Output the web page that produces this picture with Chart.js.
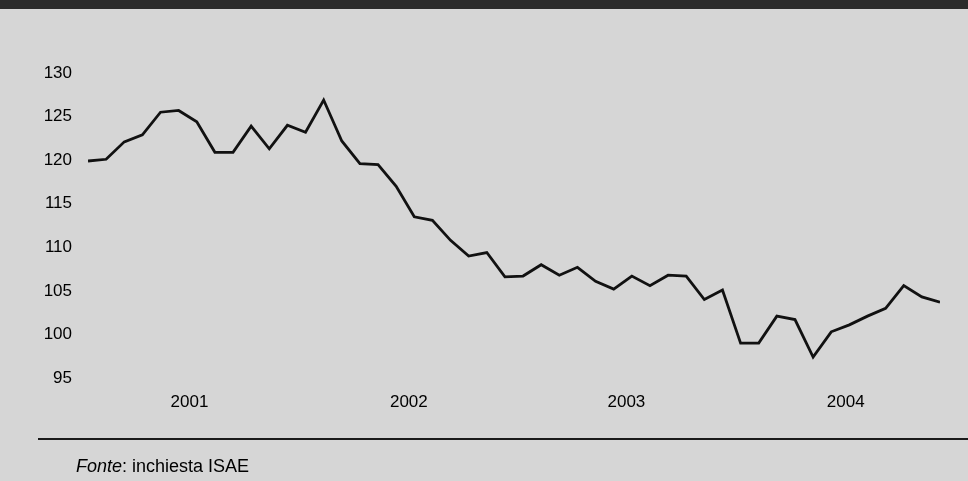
<!DOCTYPE html>
<html>
<head>
<meta charset="utf-8">
<script src="https://cdn.jsdelivr.net/npm/chart.js@4.4.1/dist/chart.umd.min.js"></script>
<style>
  html, body { margin: 0; padding: 0; }
  body {
    width: 968px; height: 481px; position: relative; overflow: hidden;
    background: #d6d6d6;
    font-family: "Liberation Sans", Arial, Helvetica, sans-serif;
  }
  #band { position: absolute; left: 0; top: 0; width: 968px; height: 9px; background: #2b2b2b; }
  #rule { position: absolute; left: 38px; top: 438px; width: 930px; height: 2px; background: #1a1a1a; }
  #source { position: absolute; left: 76px; top: 456px; font-size: 18px; color: #000; }
  #wrap { position: absolute; left: 0; top: 0; width: 968px; height: 481px; }
</style>
</head>
<body>
<div id="band"></div>
<div id="wrap"><canvas id="chart"></canvas></div>
<div id="rule"></div>
<div id="source"><i>Fonte</i>: inchiesta ISAE</div>
<script>
// monthly index, Jan 2001 - Dec 2004
const years = ['2001', '2002', '2003', '2004'];
const months = ['gen', 'feb', 'mar', 'apr', 'mag', 'giu', 'lug', 'ago', 'set', 'ott', 'nov', 'dic'];
const categories = years.flatMap(y => months.map(m => m + ' ' + y));

const values = [
  119.9, 120.1, 122.1, 122.9, 125.5, 125.7, 124.4, 120.9, 120.9, 123.9, 121.3, 124.0,
  123.2, 126.9, 122.2, 119.6, 119.5, 117.0, 113.5, 113.1, 110.8, 109.0, 109.4, 106.6,
  106.7, 108.0, 106.8, 107.7, 106.1, 105.2, 106.7, 105.6, 106.8, 106.7, 104.0, 105.1,
  99.0, 99.0, 102.1, 101.7, 97.4, 100.3, 101.1, 102.1, 103.0, 105.6, 104.3, 103.7
];

const yTicks = [95, 100, 105, 110, 115, 120, 125, 130];
// year labels sit in the middle of each year
const yearTicks = [5.6, 17.7, 29.7, 41.8];

const points = values.map((v, i) => ({ x: i, y: v, label: categories[i] }));

new Chart(document.getElementById('chart').getContext('2d'), {
  type: 'line',
  data: {
    datasets: [{
      label: 'Indice',
      data: points,
      borderColor: '#111',
      borderWidth: 2.8,
      pointRadius: 0,
      tension: 0,
      fill: false
    }]
  },
  options: {
    responsive: true,
    maintainAspectRatio: false,
    animation: false,
    layout: { padding: { top: 73, right: 28, bottom: 0, left: 0 } },
    plugins: { legend: { display: false }, tooltip: { enabled: false } },
    scales: {
      x: {
        type: 'linear',
        min: 0,
        max: values.length - 1,
        grid: { display: false, drawTicks: false },
        border: { display: false },
        afterBuildTicks: s => { s.ticks = yearTicks.map(v => ({ value: v })); },
        afterFit: s => { s.height = 103; },
        ticks: {
          padding: 14,
          color: '#000',
          font: { family: '"Liberation Sans", Arial, sans-serif', size: 17 },
          callback: (v, i) => years[i]
        }
      },
      y: {
        min: 95,
        max: 130,
        grid: { display: false, drawTicks: false },
        border: { display: false },
        afterBuildTicks: s => { s.ticks = yTicks.map(v => ({ value: v })); },
        afterFit: s => { s.width = 88; },
        ticks: {
          padding: 16,
          color: '#000',
          font: { family: '"Liberation Sans", Arial, sans-serif', size: 17 }
        }
      }
    }
  }
});
</script>
</body>
</html>
